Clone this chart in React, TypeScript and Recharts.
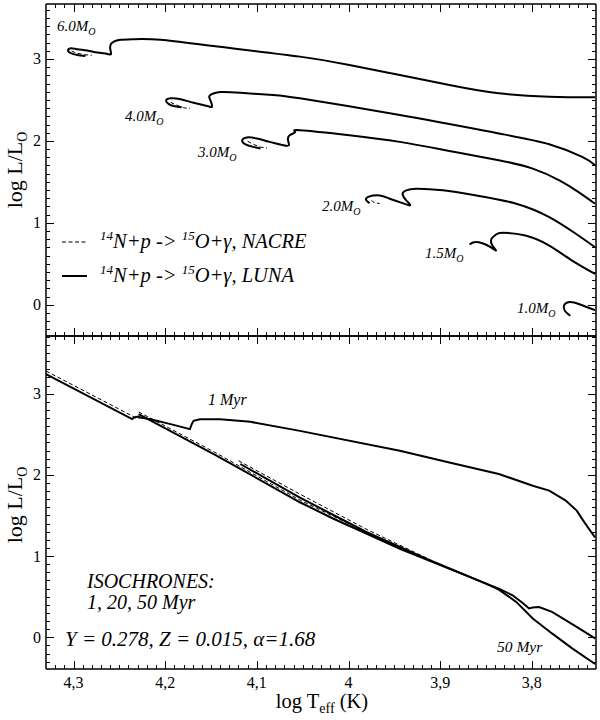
import { LineChart, Line, XAxis, YAxis } from 'recharts';

const SERIF = '"Liberation Serif", "Times New Roman", serif';

// axis ranges (log Teff runs right to left)
const X_DOMAIN: [number, number] = [3.73, 4.33];
const TOP_Y_DOMAIN: [number, number] = [-0.38, 3.67];
const BOT_Y_DOMAIN: [number, number] = [-0.39, 3.71];

const xMajor = [4.3, 4.2, 4.1, 4.0, 3.9, 3.8];
const xMajorLabels = ['4,3', '4,2', '4,1', '4', '3,9', '3,8'];
const yMajor = [0, 1, 2, 3];
const yMajorLabels = ['0', '1', '2', '3'];

// tick positions: every 0.01 in log Teff, every 0.1 in log L
const xTicks: number[] = [];
for (let i = 374; i <= 432; i++) xTicks.push(i / 100);
const topYTicks: number[] = [];
for (let i = -3; i <= 36; i++) topYTicks.push(i / 10);
const botYTicks: number[] = [];
for (let i = -3; i <= 37; i++) botYTicks.push(i / 10);

// ---- evolutionary tracks, LUNA rate [logTeff, logL]
const track60 = [
  [4.287, 3.037], [4.296, 3.049], [4.303, 3.07], [4.306, 3.102], [4.303, 3.131], [4.296, 3.119],
  [4.285, 3.102], [4.274, 3.077], [4.263, 3.061], [4.259, 3.061], [4.26, 3.131], [4.259, 3.184],
  [4.256, 3.212], [4.249, 3.233], [4.234, 3.241], [4.205, 3.233], [4.143, 3.151], [4.053, 3.028],
  [3.999, 2.927], [3.944, 2.804], [3.89, 2.682], [3.836, 2.58], [3.781, 2.539], [3.731, 2.531],
];
const track40 = [
  [4.182, 2.409], [4.191, 2.425], [4.196, 2.449], [4.199, 2.49], [4.194, 2.519], [4.183, 2.507],
  [4.169, 2.465], [4.154, 2.425], [4.149, 2.416], [4.15, 2.477], [4.152, 2.539], [4.149, 2.572],
  [4.14, 2.596], [4.118, 2.588], [4.082, 2.559], [4.053, 2.519], [3.944, 2.315], [3.836, 2.091],
  [3.781, 1.96], [3.745, 1.804], [3.731, 1.703],
];
const track30 = [
  [4.096, 1.907], [4.104, 1.927], [4.113, 1.96], [4.116, 2.009], [4.111, 2.042], [4.1, 2.029],
  [4.086, 1.988], [4.071, 1.947], [4.065, 1.947], [4.066, 2.009], [4.064, 2.07], [4.058, 2.11],
  [4.053, 2.131], [3.999, 2.07], [3.944, 1.988], [3.89, 1.878], [3.836, 1.764], [3.799, 1.662],
  [3.77, 1.519], [3.749, 1.376], [3.731, 1.234],
];
const track20 = [
  [3.977, 1.241], [3.981, 1.283], [3.977, 1.323], [3.966, 1.335], [3.955, 1.295], [3.944, 1.253],
  [3.933, 1.213], [3.937, 1.274], [3.941, 1.356], [3.937, 1.397], [3.926, 1.417], [3.897, 1.397],
  [3.861, 1.335], [3.817, 1.234], [3.781, 1.07], [3.752, 0.867], [3.731, 0.703],
];
const track15 = [
  [3.868, 0.736], [3.863, 0.764], [3.854, 0.752], [3.845, 0.703], [3.839, 0.662], [3.843, 0.723],
  [3.844, 0.805], [3.839, 0.858], [3.832, 0.879], [3.807, 0.846], [3.781, 0.723], [3.756, 0.54],
  [3.731, 0.377],
];
const track10 = [
  [3.758, -0.133], [3.764, -0.072], [3.765, -0.011], [3.762, 0.026], [3.754, 0.029], [3.741, -0.023],
  [3.731, -0.064],
];
// NACRE rate: visible where it departs from LUNA (inside the hooks)
const nacre60 = [[4.302, 3.095], [4.296, 3.07], [4.288, 3.052], [4.28, 3.045]];
const nacre40 = [[4.194, 2.47], [4.188, 2.44], [4.18, 2.405], [4.173, 2.398]];
const nacre30 = [[4.11, 1.995], [4.104, 1.96], [4.096, 1.925], [4.089, 1.915]];
const nacre20 = [[3.975, 1.275], [3.972, 1.25], [3.966, 1.235]];

// ---- isochrones
const iso1 = [
  [4.33, 3.24], [4.236, 2.686], [4.234, 2.706], [4.229, 2.718], [4.227, 2.706], [4.216, 2.686],
  [4.194, 2.625], [4.173, 2.563], [4.171, 2.625], [4.169, 2.665], [4.162, 2.686], [4.14, 2.686],
  [4.107, 2.653], [4.053, 2.542], [3.944, 2.297], [3.89, 2.153], [3.836, 2.011], [3.799, 1.867],
  [3.781, 1.806], [3.763, 1.683], [3.751, 1.56], [3.745, 1.455], [3.738, 1.34], [3.731, 1.229],
];
const iso20 = [
  [4.229, 2.747], [4.147, 2.256], [4.053, 1.663], [4.017, 1.463], [3.98, 1.275], [3.944, 1.091],
  [3.908, 0.926], [3.872, 0.763], [3.85, 0.661], [3.836, 0.6], [3.821, 0.518], [3.81, 0.423],
  [3.803, 0.355], [3.799, 0.367], [3.792, 0.374], [3.778, 0.313], [3.756, 0.162], [3.731, -0.013],
];
const iso50 = [
  [4.118, 2.134], [4.053, 1.72], [3.98, 1.294], [3.908, 0.933], [3.85, 0.661], [3.836, 0.588],
  [3.817, 0.436], [3.799, 0.232], [3.778, 0.048], [3.756, -0.136], [3.731, -0.329],
];
const iso1Nacre = [[4.33, 3.279], [4.236, 2.726], [4.232, 2.7], [4.228, 2.695]];
const iso20Nacre = [[4.229, 2.775], [4.147, 2.285], [4.053, 1.69], [3.98, 1.29], [3.908, 0.93]];
const iso50Nacre = [[4.12, 2.174], [4.053, 1.763], [3.98, 1.328], [3.908, 0.94]];

const massNames = ['6.0', '4.0', '3.0', '2.0', '1.5', '1.0'];

const pts = (a: number[][]) => a.map(([x, y]) => ({ x, y }));

// panel geometry (page pixels)
const PLOT_L = 46;
const PLOT_R = 596;
const TOP_T = 4;
const MID = 336;
const BOT_B = 669;

const isMajor = (v: number, majors: number[]) => majors.some((m) => Math.abs(m - v) < 1e-6);

function xLabelTick(props: any) {
  const { x, y, payload } = props;
  const k = xMajor.findIndex((m) => Math.abs(m - payload.value) < 1e-6);
  if (k < 0) return <g />;
  return (
    <text x={x} y={y + 19} textAnchor="middle" fontSize={16} fontFamily={SERIF} fill="#000">
      {xMajorLabels[k]}
    </text>
  );
}

function yLabelTick(props: any) {
  const { x, y, payload } = props;
  const k = yMajor.findIndex((m) => Math.abs(m - payload.value) < 1e-6);
  if (k < 0) return <g />;
  return (
    <text x={x - 5} y={y + 5.5} textAnchor="end" fontSize={16} fontFamily={SERIF} fill="#000">
      {yMajorLabels[k]}
    </text>
  );
}

const frame = { stroke: '#000', strokeWidth: 1.5 };

function Axes({ yDomain, xLabels }: { yDomain: [number, number]; xLabels: boolean }) {
  const xCommon = {
    type: 'number' as const, dataKey: 'x', domain: X_DOMAIN, reversed: true, allowDataOverflow: true,
    ticks: xMajor, interval: 0 as const, height: 1, tickSize: 0, tickMargin: 0, tickLine: false, axisLine: frame,
  };
  const yCommon = {
    type: 'number' as const, domain: yDomain, allowDataOverflow: true,
    ticks: yMajor, interval: 0 as const, tickSize: 0, tickMargin: 0, tickLine: false, axisLine: frame,
  };
  return [
    <XAxis key="b" xAxisId="bottom" orientation="bottom" {...xCommon} tick={xLabels ? xLabelTick : false} />,
    <XAxis key="t" xAxisId="top" orientation="top" {...xCommon} tick={false} />,
    <YAxis key="l" yAxisId="left" orientation="left" width={46} {...yCommon} tick={yLabelTick} />,
    <YAxis key="r" yAxisId="right" orientation="right" width={1} {...yCommon} tick={false} />,
  ];
}

function Curve({ data, dashed, smooth }: { data: number[][]; dashed?: boolean; smooth?: boolean }) {
  return (
    <Line
      data={pts(data)}
      dataKey="y"
      xAxisId="bottom"
      yAxisId="left"
      type={smooth ? 'natural' : 'linear'}
      stroke="#000"
      strokeWidth={dashed ? 1 : 2}
      strokeDasharray={dashed ? '4 2.5' : undefined}
      dot={false}
      activeDot={false}
      isAnimationActive={false}
    />
  );
}

// inward tick marks on every panel edge
function TickMarks() {
  const sx = (v: number) => PLOT_L + ((X_DOMAIN[1] - v) / (X_DOMAIN[1] - X_DOMAIN[0])) * (PLOT_R - PLOT_L);
  const sy = (v: number, dom: [number, number], top: number, bottom: number) =>
    top + ((dom[1] - v) / (dom[1] - dom[0])) * (bottom - top);
  const out: any[] = [];
  xTicks.forEach((v, i) => {
    const major = isMajor(v, xMajor);
    const len = major ? 8 : 4;
    const w = major ? 1.8 : 1.2;
    const x = Math.round(sx(v)) + 0.5;
    out.push(
      <line key={'xt' + i} x1={x} y1={TOP_T} x2={x} y2={TOP_T + len} stroke="#000" strokeWidth={w} />,
      <line key={'xm1' + i} x1={x} y1={MID} x2={x} y2={MID - len} stroke="#000" strokeWidth={w} />,
      <line key={'xm2' + i} x1={x} y1={MID} x2={x} y2={MID + len} stroke="#000" strokeWidth={w} />,
      <line key={'xb' + i} x1={x} y1={BOT_B} x2={x} y2={BOT_B - len} stroke="#000" strokeWidth={w} />,
    );
  });
  const panels: [number[], [number, number], number, number, string][] = [
    [topYTicks, TOP_Y_DOMAIN, TOP_T, MID, 'u'],
    [botYTicks, BOT_Y_DOMAIN, MID, BOT_B, 'd'],
  ];
  panels.forEach(([ticks, dom, t, b, id]) => {
    ticks.forEach((v, i) => {
      const major = isMajor(v, yMajor);
      const len = major ? 8 : 4;
      const w = major ? 1.8 : 1.2;
      const y = Math.round(sy(v, dom, t, b)) + 0.5;
      out.push(
        <line key={id + 'l' + i} x1={PLOT_L} y1={y} x2={PLOT_L + len} y2={y} stroke="#000" strokeWidth={w} />,
        <line key={id + 'r' + i} x1={PLOT_R} y1={y} x2={PLOT_R - len} y2={y} stroke="#000" strokeWidth={w} />,
      );
    });
  });
  return <g shapeRendering="crispEdges">{out}</g>;
}

export default function App() {
  const tracks = [track60, track40, track30, track20, track15, track10];
  const nacreTracks = [nacre60, nacre40, nacre30, nacre20];
  const massPos = [
    [57, 31], [125, 121], [198, 157], [322, 211], [425, 258], [517, 313],
  ];
  return (
    <div style={{ position: 'absolute', left: 0, top: 0, width: 600, height: 720, background: '#fff' }}>
      <div style={{ position: 'absolute', left: 0, top: 0 }}>
        <LineChart width={600} height={340} margin={{ top: 3, right: 3, bottom: 3, left: 0 }}>
          {Axes({ yDomain: TOP_Y_DOMAIN, xLabels: false })}
          {tracks.map((t, i) => <Curve key={'t' + i} data={t} smooth />)}
          {nacreTracks.map((t, i) => <Curve key={'n' + i} data={t} dashed smooth />)}
        </LineChart>
      </div>
      <div style={{ position: 'absolute', left: 0, top: 332 }}>
        <LineChart width={600} height={388} margin={{ top: 3, right: 3, bottom: 50, left: 0 }}>
          {Axes({ yDomain: BOT_Y_DOMAIN, xLabels: true })}
          <Curve data={iso1Nacre} dashed />
          <Curve data={iso20Nacre} dashed />
          <Curve data={iso50Nacre} dashed />
          <Curve data={iso1} />
          <Curve data={iso20} />
          <Curve data={iso50} />
        </LineChart>
      </div>
      <svg
        width={600}
        height={720}
        style={{ position: 'absolute', left: 0, top: 0, pointerEvents: 'none' }}
        fontFamily={SERIF}
        fill="#000"
      >
        <TickMarks />

        {/* axis titles */}
        <text transform="translate(22,170) rotate(-90)" textAnchor="middle" fontSize={22}>
          {'log L/L'}
          <tspan dy={5} fontSize={14}>O</tspan>
        </text>
        <text transform="translate(22,505) rotate(-90)" textAnchor="middle" fontSize={22}>
          {'log L/L'}
          <tspan dy={5} fontSize={14}>O</tspan>
        </text>
        <text x={322} y={708} textAnchor="middle" fontSize={20.5}>
          {'log T'}
          <tspan dy={5} fontSize={14}>eff</tspan>
          <tspan dy={-5}>{' (K)'}</tspan>
        </text>

        {/* mass labels */}
        {massNames.map((m, i) => (
          <text key={m} x={massPos[i][0]} y={massPos[i][1]} fontSize={15} fontStyle="italic">
            {m + 'M'}
            <tspan dy={4} fontSize={10}>O</tspan>
          </text>
        ))}

        {/* legend */}
        <line x1={62} y1={242} x2={87} y2={242} stroke="#000" strokeWidth={1} strokeDasharray="4 2.5" />
        <line x1={62} y1={276} x2={87} y2={276} stroke="#000" strokeWidth={2} />
        <text x={100} y={248} fontSize={20.5} fontStyle="italic">
          <tspan fontSize={13} dy={-8}>14</tspan>
          <tspan dy={8}>{'N+p -> '}</tspan>
          <tspan fontSize={13} dy={-8}>15</tspan>
          <tspan dy={8}>{'O+γ, NACRE'}</tspan>
        </text>
        <text x={100} y={282} fontSize={20.5} fontStyle="italic">
          <tspan fontSize={13} dy={-8}>14</tspan>
          <tspan dy={8}>{'N+p -> '}</tspan>
          <tspan fontSize={13} dy={-8}>15</tspan>
          <tspan dy={8}>{'O+γ, LUNA'}</tspan>
        </text>

        {/* bottom panel notes */}
        <text x={208} y={405} fontSize={16} fontStyle="italic">1 Myr</text>
        <text x={497} y={652} fontSize={15.5} fontStyle="italic">50 Myr</text>
        <text x={87} y={588} fontSize={20} fontStyle="italic">ISOCHRONES:</text>
        <text x={87} y={609} fontSize={20} fontStyle="italic">1, 20, 50 Myr</text>
        <text x={65} y={646} fontSize={21} fontStyle="italic">Y = 0.278, Z = 0.015, α=1.68</text>
      </svg>
    </div>
  );
}
